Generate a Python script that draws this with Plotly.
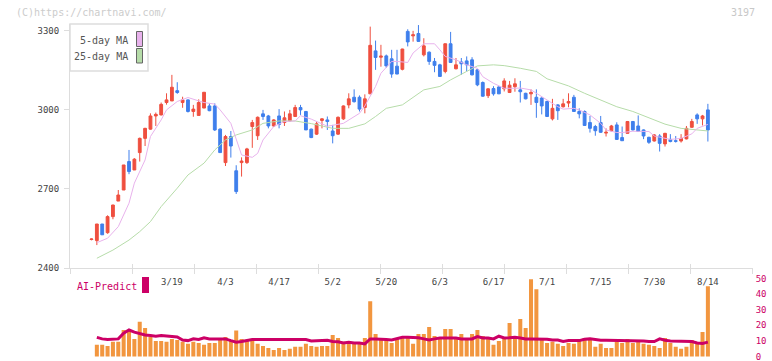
import plotly.graph_objects as go

W, H = 772, 361

# ---------------- data ----------------
opens = [2508, 2504, 2567, 2534, 2595, 2654, 2696, 2804, 2772, 2838,
         2892, 2927, 2977, 2981, 3028, 3034, 3073, 3028, 3038, 2994,
         2979, 3007, 3015, 3015, 2927, 2800, 2899, 2769, 2800, 2800,
         2937, 2902, 2985, 2977, 2939, 2977, 2952, 2958, 2975, 3009,
         2994, 2927, 2908, 2960, 2962, 2920, 2908, 2966, 3019, 3048,
         3048, 3009, 3061, 3224, 3200, 3205, 3194, 3166, 3154, 3298,
         3281, 3290, 3209, 3219, 3184, 3171, 3146, 3251, 3156, 3182,
         3186, 3190, 3152, 3104, 3054, 3081, 3087, 3080, 3066, 3088,
         3076, 3063, 3061, 3048, 3045, 3032, 2966, 3019, 3012, 3026,
         3048, 2994, 2994, 2952, 2937, 2952, 2912, 2921, 2943, 2895,
         2911, 2956, 2939, 2924, 2896, 2882, 2901, 2871, 2888, 2883,
         2882, 2890, 2934, 2981, 2966, 3000]
highs = [2512, 2567, 2567, 2600, 2640, 2696, 2791, 2848, 2817, 2895,
         2932, 2987, 2990, 3028, 3063, 3133, 3105, 3050, 3040, 3019,
         3040, 3067, 3025, 3025, 2930, 2905, 2920, 2790, 2820, 2856,
         2962, 2975, 3000, 2981, 2965, 3003, 2994, 3000, 3019, 3019,
         2996, 2929, 2956, 2968, 2975, 2943, 2975, 3017, 3063, 3078,
         3055, 3059, 3316, 3263, 3247, 3210, 3228, 3228, 3232, 3306,
         3300, 3322, 3272, 3222, 3197, 3175, 3252, 3296, 3197, 3197,
         3203, 3200, 3155, 3108, 3082, 3090, 3090, 3120, 3110, 3120,
         3110, 3065, 3078, 3078, 3048, 3035, 3042, 3022, 3042, 3063,
         3057, 3006, 2998, 2977, 2943, 2977, 2930, 2943, 2953, 2937,
         2958, 2958, 2979, 2926, 2898, 2908, 2908, 2913, 2908, 2901,
         2908, 2939, 2966, 2987, 2981, 3023]
lows = [2505, 2487, 2526, 2530, 2585, 2654, 2696, 2756, 2772, 2804,
        2863, 2925, 2939, 2979, 3020, 3034, 3061, 3008, 2990, 2974,
        2979, 3007, 2995, 2920, 2838, 2787, 2819, 2681, 2747, 2795,
        2856, 2886, 2962, 2930, 2935, 2930, 2939, 2955, 2975, 2981,
        2924, 2893, 2905, 2930, 2924, 2873, 2905, 2962, 3006, 3028,
        2994, 2987, 3061, 3152, 3164, 3160, 3122, 3136, 3150, 3241,
        3259, 3258, 3203, 3171, 3143, 3125, 3139, 3178, 3154, 3133,
        3146, 3131, 3090, 3050, 3045, 3054, 3060, 3070, 3064, 3069,
        3028, 3040, 3019, 2970, 2983, 2973, 2960, 2962, 3009, 3010,
        2992, 2968, 2939, 2914, 2902, 2913, 2899, 2918, 2886, 2882,
        2910, 2922, 2916, 2889, 2871, 2880, 2842, 2861, 2877, 2876,
        2876, 2888, 2932, 2947, 2941, 2880]
closes = [2510, 2567, 2526, 2595, 2639, 2677, 2791, 2766, 2813, 2892,
          2930, 2977, 2983, 3021, 3038, 3086, 3066, 3038, 2994, 3003,
          3028, 3067, 2997, 2924, 2838, 2899, 2863, 2690, 2806, 2852,
          2952, 2972, 2975, 2939, 2962, 2945, 2970, 2985, 3009, 3000,
          2924, 2895, 2947, 2966, 2956, 2902, 2972, 3015, 3042, 3031,
          3003, 3042, 3245, 3199, 3204, 3167, 3136, 3136, 3231, 3258,
          3285, 3260, 3243, 3184, 3169, 3127, 3251, 3180, 3171, 3175,
          3171, 3133, 3095, 3052, 3080, 3061, 3061, 3110, 3094, 3099,
          3069, 3042, 3066, 3028, 3015, 2975, 3006, 2997, 3023, 3032,
          2994, 2985, 2941, 2930, 2921, 2915, 2915, 2939, 2888, 2883,
          2956, 2924, 2918, 2901, 2877, 2905, 2873, 2911, 2880, 2881,
          2892, 2930, 2956, 2966, 2977, 2924]
idx = list(range(len(closes)))

# 5-day / 25-day moving averages, read at sampled candles
ma5_idx = [1, 3, 5, 7, 8, 10, 11, 13, 14, 16, 18, 19, 21, 23, 24, 26, 27, 28,
           30, 31, 32, 34, 36, 38, 39, 41, 44, 47, 50, 51, 53, 54, 56, 57, 59,
           60, 62, 64, 65, 66, 68, 70, 72, 73, 75, 77, 79, 80, 82, 83, 85, 87,
           88, 90, 91, 93, 95, 96, 98, 99, 101, 102, 104, 105, 107, 108, 110,
           112, 113, 115]
ma5_val = [2496, 2513, 2557, 2646, 2722, 2810, 2899, 2962, 3000, 3032, 3047,
           3041, 3028, 3022, 3000, 2949, 2886, 2829, 2820, 2835, 2886, 2937,
           2956, 2958, 2978, 2965, 2938, 2949, 2987, 3015, 3089, 3139, 3184,
           3184, 3180, 3216, 3251, 3251, 3228, 3203, 3190, 3171, 3158, 3126,
           3101, 3082, 3082, 3083, 3076, 3063, 3038, 3012, 3003, 3006, 3000,
           2981, 2949, 2924, 2914, 2914, 2919, 2918, 2918, 2901, 2892, 2888,
           2892, 2909, 2930, 2945]
ma25_idx = [1, 4, 7, 9, 11, 13, 16, 18, 21, 23, 25, 27, 30, 32, 35, 38, 41,
            45, 48, 51, 53, 55, 58, 60, 62, 65, 67, 70, 72, 75, 77, 80, 83,
            85, 89, 92, 95, 98, 101, 104, 107, 110, 113, 115]
ma25_val = [2437, 2468, 2506, 2538, 2576, 2633, 2703, 2753, 2798, 2848, 2886,
            2905, 2924, 2949, 2958, 2958, 2948, 2930, 2930, 2947, 2975, 3006,
            3019, 3048, 3076, 3089, 3114, 3146, 3167, 3171, 3168, 3158, 3146,
            3118, 3091, 3063, 3038, 3012, 2994, 2969, 2946, 2930, 2924, 2920]

# volume (bars) and AI-Predict line, candles 1..115
vol_idx = list(range(1, 116))
volume = [7.5, 7.5, 6.8, 9.4, 9.4, 17.0, 17.0, 11.3, 22.3, 18.3,
          12.5, 10.0, 10.0, 9.4, 11.3, 10.6, 9.4, 8.1, 9.4, 8.7,
          7.5, 8.7, 8.7, 10.6, 12.5, 10.0, 16.6, 11.3, 10.0, 10.6,
          8.1, 6.8, 5.5, 4.2, 5.5, 4.2, 4.9, 6.2, 6.2, 8.1,
          6.8, 6.2, 6.8, 6.8, 13.8, 11.9, 9.4, 9.4, 8.7, 8.7,
          11.9, 35.5, 14.5, 11.3, 11.3, 8.7, 11.9, 11.9, 12.5, 8.1,
          14.5, 14.5, 18.9, 13.2, 11.3, 17.6, 17.6, 11.3, 14.5, 11.3,
          14.5, 17.0, 13.2, 11.3, 7.5, 10.0, 11.3, 21.5, 11.3, 24.0,
          18.3, 49.5, 43.1, 11.3, 8.7, 9.4, 8.1, 6.8, 8.7, 8.1,
          10.6, 11.9, 11.9, 6.2, 8.1, 5.5, 5.5, 9.4, 8.7, 11.3,
          8.7, 10.6, 8.1, 7.5, 6.8, 5.5, 11.9, 8.7, 6.2, 4.9,
          6.2, 10.6, 8.7, 15.7, 45.0]
ai_pred = [12.3, 11.3, 10.9, 10.9, 11.3, 15.0, 17.0, 15.6, 14.5, 13.8,
           13.4, 13.0, 13.4, 13.0, 13.0, 12.5, 10.6, 10.2, 11.3, 10.9,
           12.0, 11.3, 11.3, 11.3, 11.3, 10.2, 9.2, 9.6, 10.2, 10.9,
           10.9, 10.9, 10.9, 10.9, 10.9, 10.9, 10.9, 10.9, 10.9, 10.9,
           10.0, 10.0, 10.0, 10.4, 9.6, 9.4, 8.7, 9.2, 8.7, 8.7,
           8.1, 11.3, 11.3, 11.3, 10.9, 10.6, 11.7, 12.3, 12.3, 12.3,
           12.0, 11.3, 10.6, 11.3, 11.9, 11.9, 12.0, 11.9, 11.3, 11.3,
           11.3, 12.8, 11.9, 11.9, 11.3, 13.0, 11.9, 12.0, 12.3, 11.9,
           11.3, 11.3, 11.3, 11.3, 11.1, 10.6, 10.6, 9.6, 10.2, 10.2,
           10.2, 11.1, 11.3, 10.9, 10.4, 10.4, 10.4, 10.4, 10.4, 10.4,
           10.2, 10.2, 10.0, 9.6, 9.6, 11.3, 10.4, 10.0, 10.0, 10.0,
           9.8, 9.6, 8.7, 8.3, 9.2]

date_idx = [15, 25, 35, 45, 55, 65, 75, 85, 95, 105, 115]
date_txt = ["3/19", "4/3", "4/17", "5/2", "5/20", "6/3", "6/17", "7/1",
            "7/15", "7/30", "8/14"]
price_ticks = [2400, 2700, 3000, 3300]
vol_ticks = [0, 10, 20, 30, 40, 50]

# ---------------- styling ----------------
MONO = "DejaVu Sans Mono"
RED = "#ef4f3f"
BLUE = "#3f7fec"
PINK = "#e8b2ec"
GREEN = "#b6dca9"
MAG = "#cc0066"
ORANGE = "#f2963f"
AXC = "#dddddd"

X_RANGE = [-4.01, 123.36]
X0, X1 = 70 / W, 752.7 / W
def py(p):
    return 1 - p / H

fig = go.Figure()
fig.add_trace(go.Candlestick(
    x=idx, open=opens, high=highs, low=lows, close=closes,
    increasing=dict(line=dict(color=RED, width=1), fillcolor=RED),
    decreasing=dict(line=dict(color=BLUE, width=1), fillcolor=BLUE),
    hoverinfo="skip", showlegend=False, xaxis="x", yaxis="y"))
fig.add_trace(go.Scatter(x=ma25_idx, y=ma25_val, mode="lines",
                         line=dict(color=GREEN, width=1), hoverinfo="skip",
                         showlegend=False, xaxis="x3", yaxis="y"))
fig.add_trace(go.Scatter(x=ma5_idx, y=ma5_val, mode="lines",
                         line=dict(color=PINK, width=1), hoverinfo="skip",
                         showlegend=False, xaxis="x4", yaxis="y"))
fig.add_trace(go.Bar(x=vol_idx, y=volume, marker=dict(color=ORANGE, line=dict(width=0)),
                     width=0.75, hoverinfo="skip", showlegend=False,
                     xaxis="x2", yaxis="y2"))
fig.add_trace(go.Scatter(x=vol_idx, y=ai_pred, mode="lines",
                         line=dict(color=MAG, width=3), hoverinfo="skip",
                         showlegend=False, xaxis="x2", yaxis="y2"))

grid_div = dict(tickmode="linear", tick0=X_RANGE[0], dtick=(X_RANGE[1] - X_RANGE[0]) / 11)
noauto = dict(automargin=False, fixedrange=True)

fig.update_layout(
    width=W, height=H, margin=dict(l=0, r=0, t=0, b=0),
    paper_bgcolor="white", plot_bgcolor="white", boxgap=0.25,
    font=dict(family=MONO, size=9, color="#444"),
    # main x axis: date labels only
    xaxis=dict(domain=[X0, X1], range=X_RANGE, anchor="y", showline=True,
               linecolor=AXC, linewidth=1, ticks="", tickmode="array",
               tickvals=date_idx, ticktext=date_txt, showgrid=False,
               zeroline=False, rangeslider=dict(visible=False),
               ticklabelstandoff=5,
               tickfont=dict(family=MONO, size=9, color="#444"), **noauto),
    # division ticks (outside and inside, crossing the axis line)
    xaxis3=dict(overlaying="x", anchor="y", range=X_RANGE, ticks="outside",
                ticklen=5, tickcolor=AXC, showticklabels=False, showline=False,
                showgrid=False, zeroline=False, **grid_div, **noauto),
    xaxis4=dict(overlaying="x", anchor="y", range=X_RANGE, ticks="inside",
                ticklen=4, tickcolor=AXC, showticklabels=False, showline=False,
                showgrid=False, zeroline=False, **grid_div, **noauto),
    yaxis=dict(domain=[py(268), py(24)], range=[2400, 3326], anchor="x",
               tickmode="array", tickvals=price_ticks, ticks="outside",
               ticklen=5, tickcolor=AXC, showline=True, linecolor=AXC,
               showgrid=False, zeroline=False, ticklabelstandoff=3,
               tickfont=dict(family=MONO, size=9, color="#444"), **noauto),
    xaxis2=dict(domain=[X0, X1], range=X_RANGE, anchor="y2", visible=False, **noauto),
    yaxis2=dict(domain=[0, py(274)], range=[-2.88, 52.9], anchor="x2",
                side="right", tickmode="array", tickvals=vol_ticks, ticks="",
                showline=False, showgrid=False, zeroline=False,
                ticklabelstandoff=2, ticklabeloverflow="allow",
                tickfont=dict(family=MONO, size=9, color=MAG), **noauto),
)

# legend box (top-left)
fig.add_shape(type="rect", xref="paper", yref="paper", x0=70 / W, x1=148 / W,
              y0=py(71), y1=py(24), line=dict(color=AXC, width=1.5),
              fillcolor="white", layer="above")
fig.add_shape(type="rect", xref="paper", yref="paper", x0=136.5 / W, x1=142.5 / W,
              y0=py(46.5), y1=py(31.5), line=dict(color="#666", width=1),
              fillcolor=PINK, layer="above")
fig.add_shape(type="rect", xref="paper", yref="paper", x0=136.5 / W, x1=142.5 / W,
              y0=py(63), y1=py(48.5), line=dict(color="#666", width=1),
              fillcolor=GREEN, layer="above")
fig.add_shape(type="rect", xref="paper", yref="paper", x0=142 / W, x1=149 / W,
              y0=py(293), y1=py(277), line=dict(width=0), fillcolor=MAG)

ann = [
    dict(text="5-day MA", x=130 / W, y=py(40), xanchor="right", color="#555", size=10),
    dict(text="25-day MA", x=130 / W, y=py(56.5), xanchor="right", color="#555", size=10),
    dict(text="(C)https://chartnavi.com/", x=14 / W, y=py(12), xanchor="left", color="#cccccc", size=10),
    dict(text="3197", x=757 / W, y=py(12), xanchor="right", color="#c8c8c8", size=10),
    dict(text="AI-Predict", x=75 / W, y=py(286), xanchor="left", color=MAG, size=10),
]
for a in ann:
    fig.add_annotation(text=a["text"], x=a["x"], y=a["y"], xref="paper", yref="paper",
                       xanchor=a["xanchor"], yanchor="middle", showarrow=False,
                       font=dict(family=MONO, size=a["size"], color=a["color"]))

# the page's default 8px body margin would shift the figure; remove it
fig.write_html("out.html", config={"displayModeBar": False, "staticPlot": True},
               post_script="document.body.style.margin='0';document.body.style.overflow='hidden';")
